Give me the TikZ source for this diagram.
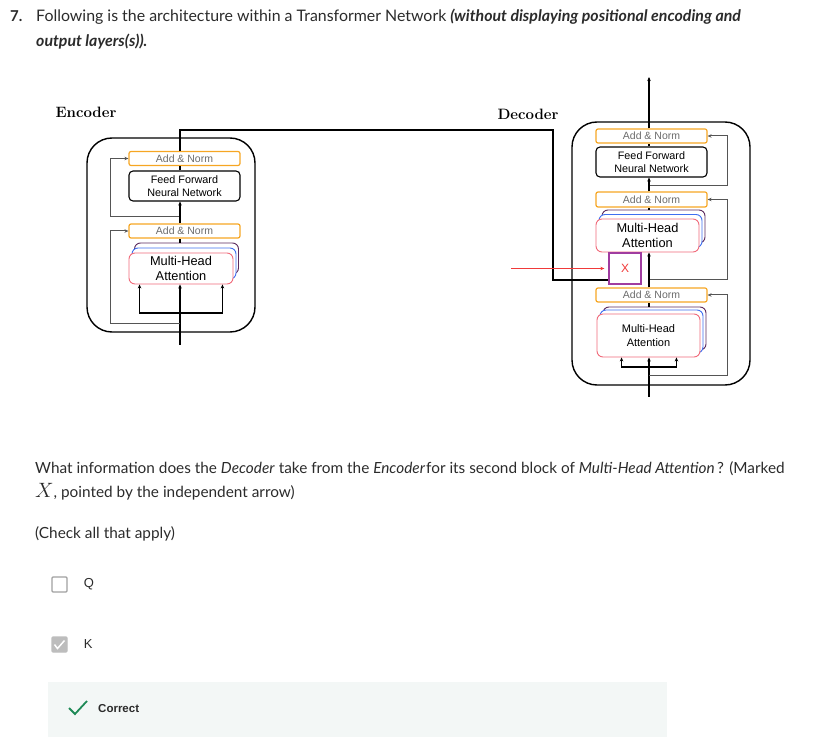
\documentclass[tikz,border=0pt]{standalone}
\usepackage{fontspec}
\usetikzlibrary{arrows.meta,positioning}
\newfontfamily\qfont{Lato}
\newfontfamily\arialfont{Liberation Sans}
\definecolor{anorange}{HTML}{F6A623}
\definecolor{angray}{HTML}{6B6B6B}
\definecolor{mhapink}{HTML}{F06A7A}
\definecolor{mhablue}{HTML}{3F6FF0}
\definecolor{mhapurple}{HTML}{5B2A5E}
\definecolor{xpurple}{HTML}{A03CA0}
\definecolor{xred}{HTML}{F03A3A}
\definecolor{panelbg}{HTML}{F3F7F6}
\definecolor{okgreen}{HTML}{1F8A57}
\definecolor{boxgray}{HTML}{A0A0A0}
\definecolor{boxfill}{HTML}{BDBDBD}
\definecolor{resgray}{HTML}{555555}
\definecolor{qcolor}{HTML}{2B2B2B}
\begin{document}
\begin{tikzpicture}[x=1pt,y=-1pt,>={Stealth[length=4pt,width=3.5pt]},
	addnorm/.style={draw=anorange,line width=1.2pt,rounded corners=2pt,minimum width=111pt,minimum height=14pt,inner sep=0pt,text=angray,font=\arialfont\fontsize{10.5}{12}\selectfont},
	ffn/.style={draw,line width=1.1pt,rounded corners=4pt,minimum width=111pt,minimum height=30pt,inner sep=0pt,align=center,font=\arialfont\fontsize{10.8}{13}\selectfont},
	mha/.style={draw=mhapink,fill=white,line width=0.9pt,rounded corners=6pt,minimum width=104pt,inner sep=0pt,align=center},
	mhaback/.style={mha,draw=#1},
	block/.style={draw,line width=1.4pt,rounded corners=25pt,inner sep=0pt},
	wire/.style={line width=1.1pt},
	res/.style={line width=1pt,draw=resgray},
	blocktitle/.style={font=\bfseries\fontsize{15}{17}\selectfont,inner sep=0pt},
	qtext/.style={font=\qfont\fontsize{15.35}{18}\selectfont,text=qcolor,anchor=base west,inner sep=0pt},
	ttext/.style={qtext,font=\qfont\fontsize{15.9}{18}\selectfont},
	optbox/.style={draw=boxgray,line width=1.2pt,minimum size=15pt,inner sep=0pt,rounded corners=1pt},
	opttext/.style={font=\arialfont\fontsize{13}{15}\selectfont,text=qcolor,inner sep=0pt},
	]
	\useasboundingbox (0,0) rectangle (815,746);
	% Đề bài
	\node[ttext,font=\qfont\bfseries\fontsize{15}{18}\selectfont] (num) at (10,22) {7.};
	\node[ttext] (title1) at (36,22) {Following is the architecture within a Transformer Network \textbf{\textit{(without displaying positional encoding and}}};
	\node[ttext] (title2) at (36,47) {\textbf{\textit{output layers(s)).}}};
	\node[blocktitle] (enTitle) at (86,112) {Encoder};
	\node[blocktitle] (deTitle) at (528,114) {Decoder};
	% Khối Encoder
	\node[block,minimum width=168pt,minimum height=194pt] (enBlock) at (171,235) {};
	\node[addnorm] (enAN2) at (184.5,158.5) {Add \& Norm};
	\node[ffn] (enFFN) at (184.5,186) {Feed Forward\\Neural Network};
	\node[addnorm] (enAN1) at (184.5,231) {Add \& Norm};
	\node[mhaback=mhapurple,minimum height=31pt] (enPurple) at (186.5,258.5) {};
	\node[mhaback=mhablue,minimum height=31pt] (enBlue) at (184,263.5) {};
	\node[mha,minimum height=31pt,font=\arialfont\fontsize{12.8}{15}\selectfont] (enMHA) at (181,268.5) {Multi-Head\\Attention};
	\coordinate (enIn) at (180,345);
	\coordinate (enFork) at (180,313);
	\coordinate (enRes1) at (180,324);
	\coordinate (enRes2) at (180,217);
	\coordinate (enOut) at (180,130);
	\draw[wire,->] (enIn) -- (enIn |- enMHA.south);
	\draw[wire,->] (enFork) -| ([xshift=11pt]enMHA.south west);
	\draw[wire,->] (enFork) -| ([xshift=-11pt]enMHA.south east);
	\draw[res,->] (enRes1) -| ([xshift=-18pt]enAN1.west) -- (enAN1.west);
	\draw[res,->] (enRes2) -| ([xshift=-18pt]enAN2.west) -- (enAN2.west);
	\draw[wire] (enPurple.north -| enIn) -- (enAN1.south -| enIn);
	\draw[wire,->] (enAN1.north -| enIn) -- (enFFN.south -| enIn);
	\draw[wire] (enFFN.north -| enIn) -- (enAN2.south -| enIn);
	% Khối Decoder
	\node[block,minimum width=178pt,minimum height=263pt] (deBlock) at (661,253.5) {};
	\node[addnorm] (deAN3) at (651.5,136) {Add \& Norm};
	\node[ffn] (deFFN) at (651.5,162) {Feed Forward\\Neural Network};
	\node[addnorm,minimum height=15pt] (deAN2) at (651.5,199.5) {Add \& Norm};
	\node[mhaback=mhapurple,minimum width=103pt,minimum height=33pt] (dePurple2) at (653.5,226.5) {};
	\node[mhaback=mhablue,minimum width=103pt,minimum height=33pt] (deBlue2) at (650.5,231) {};
	\node[mha,minimum width=103pt,minimum height=33pt,font=\arialfont\fontsize{12.8}{15}\selectfont] (deMHA2) at (647.5,235.5) {Multi-Head\\Attention};
	\node[draw=xpurple,line width=1.3pt,minimum width=32pt,minimum height=31pt,inner sep=0pt,text=xred,font=\arialfont\fontsize{12}{14}\selectfont] (deX) at (625,268.5) {X};
	\node[addnorm] (deAN1) at (651.5,295) {Add \& Norm};
	\node[mhaback=mhapurple,minimum width=103pt,minimum height=43pt] (dePurple1) at (654.5,328.5) {};
	\node[mhaback=mhablue,minimum width=103pt,minimum height=43pt] (deBlue1) at (651.5,331.5) {};
	\node[mha,minimum width=103pt,minimum height=43pt,font=\arialfont\fontsize{11}{14}\selectfont] (deMHA1) at (648.5,335.5) {Multi-Head\\Attention};
	\coordinate (deIn) at (649,397);
	\coordinate (deFork) at (649,367);
	\coordinate (deRes1) at (649,376);
	\coordinate (deRes2) at (649,280);
	\coordinate (deRes3) at (649,186);
	\coordinate (deOut) at (649,77);
	\draw[wire,->] (deIn) -- (deIn |- deMHA1.south);
	\draw[wire,->] (deFork) -| ([xshift=25pt]deMHA1.south west);
	\draw[wire,->] (deFork) -| ([xshift=-24pt]deMHA1.south east);
	\draw[res,->] (deRes1) -| ([xshift=20pt]deAN1.east) -- (deAN1.east);
	\draw[res,->] (deRes2) -| ([xshift=20pt]deAN2.east) -- (deAN2.east);
	\draw[res,->] (deRes3) -| ([xshift=20pt]deAN3.east) -- (deAN3.east);
	\draw[wire] (dePurple1.north -| deIn) -- (deAN1.south -| deIn);
	\draw[wire,->] (deAN1.north -| deIn) -- (deMHA2.south -| deIn);
	\draw[wire] (dePurple2.north -| deIn) -- (deAN2.south -| deIn);
	\draw[wire,->] (deAN2.north -| deIn) -- (deFFN.south -| deIn);
	\draw[wire] (deFFN.north -| deIn) -- (deAN3.south -| deIn);
	\draw[wire,->] (deAN3.north -| deIn) -- (deOut);
	% Nối Encoder sang Decoder
	\coordinate (kvTop) at (553,130);
	\coordinate (kvIn) at (553,280);
	\draw[wire] (enAN2.north -| enIn) -- (enOut) -- (kvTop) -- (kvIn) -- (kvIn -| deX.west);
	\draw[->,xred,line width=1.2pt,shorten >=4pt] ([xshift=-97pt]deX.west) -- (deX.west); % mũi tên đỏ
	% Câu hỏi
	\node[qtext] (q1) at (35,473) {What information does the \textit{Decoder}\ take from the \textit{Encoder}\kern1pt for its second block of \textit{Multi-Head Attention}\,? (Marked};
	\node[qtext] (q2) at (35,497) {{\fontsize{20}{20}\selectfont$X$}, pointed by the independent arrow)};
	\node[qtext] (q3) at (35,538) {(Check all that apply)};
	\node[optbox] (boxQ) at (59.5,584.5) {};
	\node[opttext,right=16pt of boxQ] (optQ) {Q};
	\node[optbox,fill=boxfill,draw=boxfill] (boxK) at (59.5,644.5) {};
	\draw[white,line width=1.5pt] ([shift={(-5,0)}]boxK.center) -- ++(3,4) -- ++(7,-8);
	\node[opttext,right=16pt of boxK] (optK) {K};
	\node[fill=panelbg,minimum width=619pt,minimum height=55pt,inner sep=0pt] (panel) at (357.5,709.5) {};
	\draw[okgreen,line width=1.8pt] (69,708) -- (75,714) -- (87,701);
	\node[font=\arialfont\bfseries\fontsize{11.5}{14}\selectfont,text=qcolor,anchor=base west,inner sep=0pt] (okText) at (98,712) {Correct};
\end{tikzpicture}
\end{document}
